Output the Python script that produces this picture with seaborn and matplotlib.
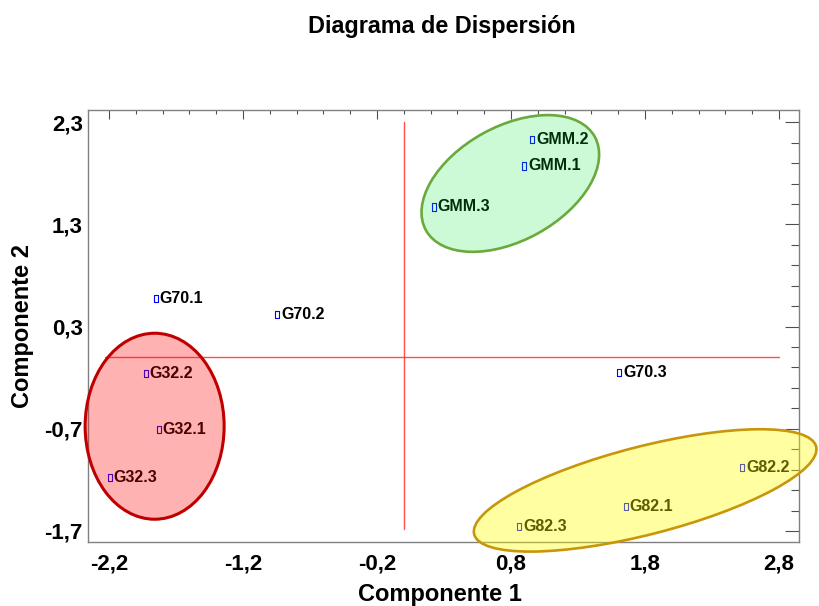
import numpy as np
import pandas as pd
import seaborn as sns
import matplotlib
matplotlib.use("Agg")
import matplotlib.pyplot as plt
from matplotlib.patches import Ellipse
from matplotlib.ticker import FixedLocator, MultipleLocator
import matplotlib.transforms as mtransforms

# ---- data ----
labels = ["GMM.2", "GMM.1", "GMM.3", "G70.1", "G70.2", "G70.3",
          "G32.2", "G32.1", "G32.3", "G82.2", "G82.1", "G82.3"]
comp1 = [0.957, 0.897, 0.225, -1.849, -0.946, 1.606,
         -1.924, -1.827, -2.193, 2.524, 1.658, 0.860]
comp2 = [2.127, 1.872, 1.471, 0.572, 0.416, -0.152,
         -0.162, -0.710, -1.180, -1.083, -1.464, -1.660]

xticks = [-2.2, -1.2, -0.2, 0.8, 1.8, 2.8]
yticks = [-1.7, -0.7, 0.3, 1.3, 2.3]
xticklabels = ["-2,2", "-1,2", "-0,2", "0,8", "1,8", "2,8"]
yticklabels = ["-1,7", "-0,7", "0,3", "1,3", "2,3"]

# reference lines (origin axes)
hline_x = [-2.23, 2.8]
hline_y = [0.0, 0.0]
vline_x = [0.0, 0.0]
vline_y = [-1.68, 2.3]

# group ellipses: center (data)
groups = ["G32", "GMM", "G82"]
ell_cx = [-1.859, 0.795, 1.801]
ell_cy = [-0.675, 1.701, -1.303]

df = pd.DataFrame({"Componente 1": comp1, "Componente 2": comp2, "label": labels})

sns.set_style("white")
plt.rcParams["font.family"] = ["Liberation Sans", "DejaVu Sans"]
plt.rcParams["text.color"] = "black"
plt.rcParams["axes.labelcolor"] = "black"

fig = plt.figure(figsize=(8.2, 6.06), dpi=100)
ax = fig.add_axes([88.3 / 820, 1 - 541.7 / 606, (799 - 88.3) / 820, (541.7 - 110) / 606])

ax.set_xlim(-2.354, 2.949)
ax.set_ylim(-1.805, 2.42)

ax.plot(hline_x, hline_y, color="#ff3030", lw=1.0, alpha=0.85, zorder=1)
ax.plot(vline_x, vline_y, color="#ff3030", lw=1.0, alpha=0.85, zorder=1)

verts = [(-0.55, -1), (0.55, -1), (0.55, 1), (-0.55, 1), (-0.55, -1)]
sns.scatterplot(data=df, x="Componente 1", y="Componente 2", ax=ax,
                marker=verts, s=26, facecolor="none", edgecolor="#0000ff",
                linewidth=0.8, zorder=3)

for name, x, y in zip(labels, comp1, comp2):
    ax.annotate(name, (x, y), xytext=(2.8, 0), textcoords="offset points",
                ha="left", va="center", fontsize=11.5, fontweight="bold",
                color="black", zorder=4)

ell_w = [139, 193, 353]
ell_h = [186, 114, 88]
ell_ang = [0, 29, 14.4]
ell_fc = [(1, 0, 0, 0.30), (0, 0.9, 0.2, 0.20), (1, 1, 0, 0.37)]
ell_ec = ["#c00000", "#6aaa3c", "#c8960a"]
ell_lw = [2.2, 1.9, 1.9]
for cx, cy, w, h, a, fc, ec, lw in zip(ell_cx, ell_cy, ell_w, ell_h, ell_ang, ell_fc, ell_ec, ell_lw):
    tr = mtransforms.ScaledTranslation(cx, cy, ax.transData)
    e = Ellipse((0, 0), w, h, angle=a, transform=tr, facecolor=fc,
                edgecolor=ec, lw=lw, zorder=5, clip_on=False)
    ax.add_patch(e)

ax.xaxis.set_major_locator(FixedLocator(xticks))
ax.yaxis.set_major_locator(FixedLocator(yticks))
ax.set_xticklabels(xticklabels)
ax.set_yticklabels(yticklabels)
ax.xaxis.set_minor_locator(MultipleLocator(0.2))
ax.yaxis.set_minor_locator(MultipleLocator(0.2, offset=0.1))

tc = "#505050"
ax.tick_params(axis="both", which="both", direction="in", top=True, right=True,
               colors=tc, labelcolor="black", width=0.8)
ax.tick_params(axis="x", which="major", length=6.5, pad=8.5, labelsize=16)
ax.tick_params(axis="x", which="minor", length=3)
ax.tick_params(axis="y", which="major", length=10, pad=4, labelsize=16)
ax.tick_params(axis="y", which="minor", length=5.8)
for lab in ax.get_xticklabels() + ax.get_yticklabels():
    lab.set_fontweight("bold")

for sp in ax.spines.values():
    sp.set_visible(True)
    sp.set_color("#808080")
    sp.set_linewidth(1.0)

ax.set_xlabel("Componente 1", fontsize=17, fontweight="bold", color="black")
ax.set_ylabel("Componente 2", fontsize=17, fontweight="bold", color="black")
ax.xaxis.set_label_coords((440 - 88.3) / 710.7, (541.7 - 594) / 431.7)
ax.xaxis.label.set_va("center")
ax.yaxis.set_label_coords((23 - 88.3) / 710.7, 0.5)
ax.yaxis.label.set_va("center")

fig.text(442 / 820, 1 - 27 / 606, "Diagrama de Dispersión", ha="center",
         va="center", fontsize=16.8, fontweight="bold", color="black")

fig.savefig("out.png", dpi=100)
